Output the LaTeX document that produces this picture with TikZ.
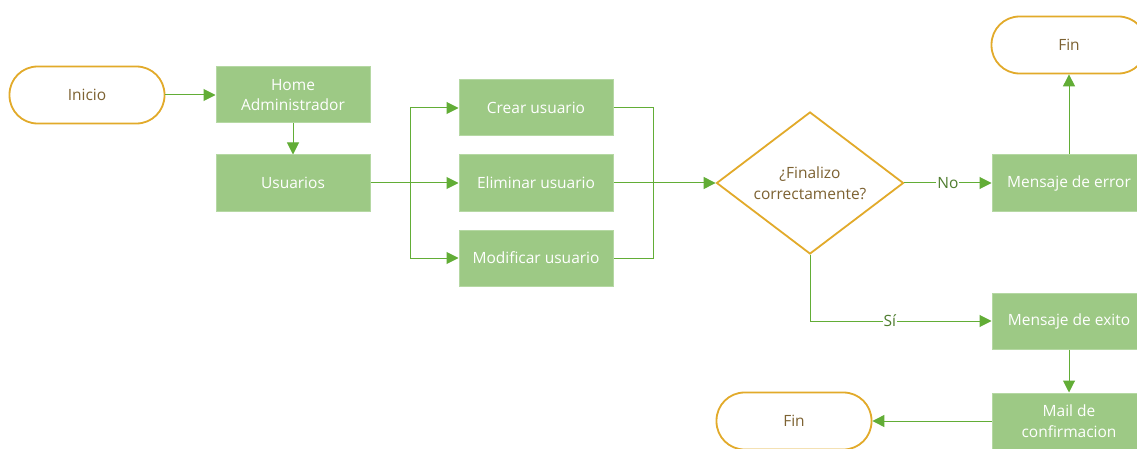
\documentclass[tikz,border=0pt]{standalone}
\usepackage{fontspec}
\setmainfont{Open Sans}
\usetikzlibrary{arrows.meta,shapes.geometric}
\definecolor{boxfill}{HTML}{9DC985}
\definecolor{boxedge}{HTML}{B5D8A3}
\definecolor{linegreen}{HTML}{62AD36}
\definecolor{termedge}{HTML}{E2AA2A}
\definecolor{termtext}{HTML}{7D6232}
\definecolor{labgreen}{HTML}{4F7D2F}
\tikzset{
  x=1pt,y=-1pt,
  every node/.style={font=\fontsize{15.5}{20.5}\selectfont},
  procbox/.style={rectangle,fill=boxfill,draw=boxedge,line width=1pt,minimum width=154pt,minimum height=56pt,text=white,align=center,inner sep=0pt},
  termbox/.style={rectangle,rounded corners=28pt,draw=termedge,line width=1.8pt,fill=white,minimum width=155pt,minimum height=57pt,text=termtext,inner sep=0pt},
  decbox/.style={diamond,draw=termedge,line width=1.8pt,fill=white,minimum width=187pt,minimum height=142pt,aspect=1.32,text=termtext,align=center,inner sep=0pt},
  conn/.style={draw=linegreen,line width=1pt},
  arr/.style={conn,-{Triangle[length=12pt,width=12pt]}},
  lab/.style={fill=white,text=labgreen,inner sep=1pt}
}
\begin{document}
\begin{tikzpicture}
\useasboundingbox[fill=white] (0,0) rectangle (1137,449);
\node[termbox] (inicio) at (87,95) {Inicio};
\node[procbox] (home) at (293,95) {Home\\Administrador};
\node[procbox] (usuarios) at (293,183) {Usuarios};
\node[procbox] (crear) at (536,108) {Crear usuario};
\node[procbox] (eliminar) at (536,183) {Eliminar usuario};
\node[procbox] (modificar) at (536,258) {Modificar usuario};
\node[decbox] (dec) at (810,183) {¿Finalizo\\correctamente?};
\node[procbox] (error) at (1069,183) {Mensaje de error};
\node[termbox] (fin1) at (1069,45) {Fin};
\node[procbox] (exito) at (1069,321) {Mensaje de exito};
\node[procbox] (mail) at (1069,421) {Mail de\\confirmacion};
\node[termbox] (fin2) at (794,421) {Fin};
\coordinate (split) at (410,183);
\coordinate (join) at (653,183);
\draw[arr] (inicio) -- (home);
\draw[arr] (home) -- (usuarios);
\draw[arr] (usuarios) -- (eliminar);
\draw[arr] (split) |- (crear.west);
\draw[arr] (split) |- (modificar.west);
\draw[conn] (crear.east) -| (join);
\draw[conn] (modificar.east) -| (join);
\draw[arr] (eliminar) -- (dec);
\draw[arr] (dec.east) -- node[lab] {No} (error.west);
\draw[arr] (error.north) -- (fin1.south);
\draw[arr] (dec.south) |- node[lab,pos=0.72] {Sí} (exito.west);
\draw[arr] (exito) -- (mail);
\draw[arr] (mail) -- (fin2);
\end{tikzpicture}
\end{document}
